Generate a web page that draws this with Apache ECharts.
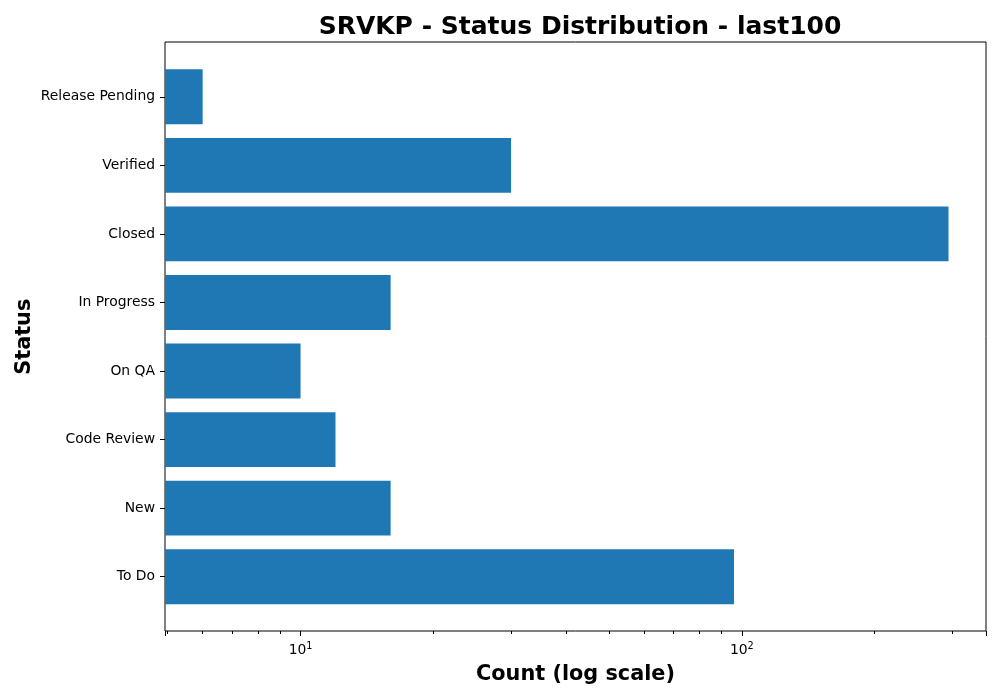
<!DOCTYPE html>
<html>
<head>
<meta charset="utf-8">
<script src="https://cdn.jsdelivr.net/npm/echarts@6/dist/echarts.min.js"></script>
<style>
  html, body { margin: 0; padding: 0; background: #fff; }
  #chart { width: 1000px; height: 700px; }
</style>
</head>
<body>
<div id="chart"></div>
<script>
var statuses = ['To Do', 'New', 'Code Review', 'On QA', 'In Progress', 'Closed', 'Verified', 'Release Pending'];
var counts = [96, 16, 12, 10, 16, 294, 30, 6];
var xMin = 4.93, xMax = 357.5;

var chart = echarts.init(document.getElementById('chart'));

var font = 'DejaVu Sans';

var option = {
  animation: false,
  title: {
    text: 'SRVKP - Status Distribution - last100',
    left: 575,
    top: 10,
    textAlign: 'center',
    textStyle: { fontFamily: font, fontSize: 25, fontWeight: 'bold', color: '#000' }
  },
  grid: [{
    // data area, inset like matplotlib's margins
    left: 165, right: 14, top: 62.5, height: 548.5,
    outerBoundsMode: 'none',
    show: false
  }, {
    // frame
    left: 165, right: 14, top: 42, height: 589,
    outerBoundsMode: 'none',
    show: true, borderColor: '#000', borderWidth: 1, backgroundColor: 'transparent'
  }],
  xAxis: [{
    type: 'log',
    gridIndex: 0,
    min: xMin,
    max: xMax,
    offset: 20,
    name: 'Count (log scale)',
    nameLocation: 'middle',
    nameGap: 33,
    nameMoveOverlap: false,
    nameTextStyle: { fontFamily: font, fontSize: 20.8, fontWeight: 'bold', color: '#000' },
    axisLine: { show: false },
    axisTick: { show: true, length: 5, lineStyle: { color: '#000' } },
    minorTick: { show: true, splitNumber: 9, length: 3, lineStyle: { color: '#000' } },
    splitLine: { show: false },
    axisLabel: {
      showMinLabel: false,
      showMaxLabel: false,
      fontFamily: font,
      fontSize: 13.9,
      color: '#000',
      margin: 10,
      formatter: function (v) {
        var e = Math.round(Math.log10(v));
        if (Math.abs(Math.pow(10, e) - v) > 1e-6) return '';
        return '10{sup|' + e + '}';
      },
      rich: {
        sup: { fontFamily: font, fontSize: 9.7, color: '#000', padding: [0, 0, 9, 0] }
      }
    }
  }, {
    type: 'value', gridIndex: 1, show: false
  }],
  yAxis: [{
    type: 'category',
    gridIndex: 0,
    data: statuses,
    name: 'Status',
    nameLocation: 'middle',
    nameGap: 130,
    nameMoveOverlap: false,
    nameTextStyle: { fontFamily: font, fontSize: 20.8, fontWeight: 'bold', color: '#000' },
    axisLine: { show: false },
    axisTick: { show: true, alignWithLabel: true, length: 5, lineStyle: { color: '#000' } },
    axisLabel: { fontFamily: font, fontSize: 13.9, color: '#000', margin: 10 },
    splitLine: { show: false }
  }, {
    type: 'value', gridIndex: 1, show: false
  }],
  series: [{
    type: 'bar',
    xAxisIndex: 0,
    yAxisIndex: 0,
    data: counts,
    barCategoryGap: '20%',
    clip: true,
    itemStyle: { color: '#1f77b4' }
  }]
};

chart.setOption(option);
</script>
</body>
</html>
